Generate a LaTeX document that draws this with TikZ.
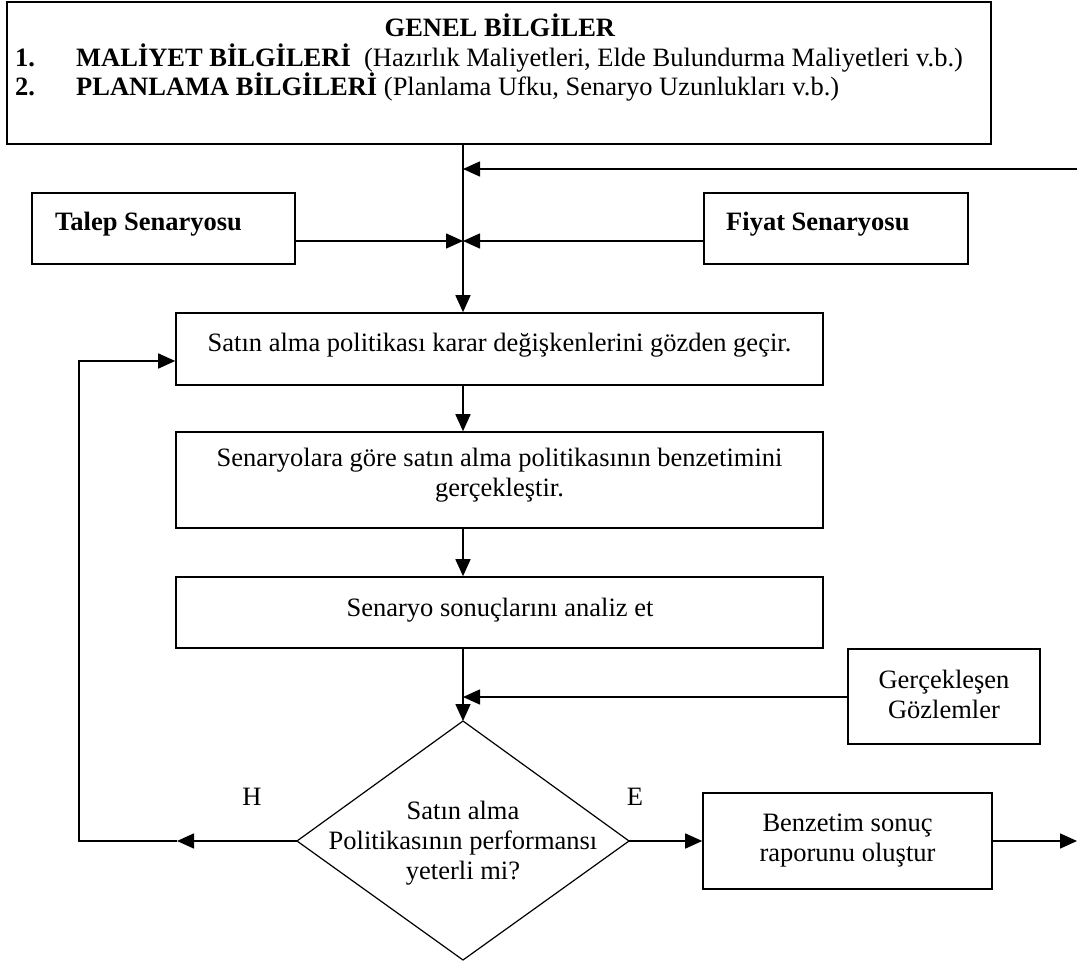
\documentclass[tikz,border=0pt]{standalone}
\usepackage{fontspec}
\setmainfont{Liberation Serif}
\usetikzlibrary{arrows.meta}
\tikzset{
  box/.style={draw, line width=1.6pt, inner sep=0pt, rectangle},
  conn/.style={line width=1.6pt},
  arr/.style={conn, -{Triangle[length=17pt,width=15pt]}},
  txt/.style={inner sep=0pt, anchor=base},
  ltxt/.style={inner sep=0pt, anchor=base west},
  mtxt/.style={inner sep=0pt, anchor=base, align=flush center, text width=#1},
}
\begin{document}
\begin{tikzpicture}[x=1pt,y=-1pt,font=\fontsize{26.5}{30}\selectfont]
\useasboundingbox (0,0) rectangle (1077,965);

% boxes
\node[box, minimum width=984pt, minimum height=142pt] (top) at (499,73) {};
\node[box, minimum width=263pt, minimum height=71pt] (talep) at (163.5,228.5) {};
\node[box, minimum width=264pt, minimum height=71pt] (fiyat) at (836,228.5) {};
\node[box, minimum width=647pt, minimum height=72pt] (sat) at (499.5,349) {};
\node[box, minimum width=647pt, minimum height=96pt] (sen) at (499.5,480) {};
\node[box, minimum width=647pt, minimum height=71pt] (ana) at (499.5,612.5) {};
\node[box, minimum width=192pt, minimum height=95pt] (ger) at (944,696.5) {};
\node[box, minimum width=289pt, minimum height=96pt] (ben) at (847.5,841) {};

% diamond
\coordinate (dt) at (463,721);
\coordinate (dr) at (629,841);
\coordinate (db) at (463,960);
\coordinate (dl) at (297,841);
\draw[line width=1.2pt, line join=miter] (dt) -- (dr) -- (db) -- (dl) -- cycle;

% texts
\node[txt] (title) at (500,37) {\textbf{GENEL BİLGİLER}};
\node[ltxt] (n1) at (15,67) {\textbf{1.}};
\node[ltxt] (l1) at (76,67) {\textbf{MALİYET BİLGİLERİ}\ \ (Hazırlık Maliyetleri, Elde Bulundurma Maliyetleri v.b.)};
\node[ltxt] (n2) at (15,96) {\textbf{2.}};
\node[ltxt] (l2) at (76,96) {\textbf{PLANLAMA BİLGİLERİ} (Planlama Ufku, Senaryo Uzunlukları v.b.)};
\node[ltxt] (talept) at (55,231) {\textbf{Talep Senaryosu}};
\node[ltxt] (fiyatt) at (726,231) {\textbf{Fiyat Senaryosu}};
\node[txt] (satt) at (499.5,352) {Satın alma politikası karar değişkenlerini gözden geçir.};
\node[mtxt=700pt] (sent) at (499.5,467) {Senaryolara göre satın alma politikasının benzetimini\\gerçekleştir.};
\node[txt] (anat) at (500,616) {Senaryo sonuçlarını analiz et};
\node[mtxt=185pt] (gert) at (944,688) {Gerçekleşen\\Gözlemler};
\node[mtxt=280pt] (bent) at (847.5,831) {Benzetim sonuç\\raporunu oluştur};
\node[mtxt=330pt] (dtext) at (463,819) {Satın alma\\Politikasının performansı\\yeterli mi?};
\node[txt] (hl) at (252,805) {H};
\node[txt] (el) at (635,805) {E};

% connectors
\coordinate (sp) at (463,0);
\coordinate (rin) at (1077,169);
\coordinate (j2) at (463,241);
\coordinate (rout) at (1077,841);
\coordinate (ha) at (177,841);
\coordinate (lb) at (79,841);
\coordinate (lt) at (79,361);

\draw[arr] (rin) -- (rin -| sp);
\draw[arr] (top.south -| sp) -- (sat.north -| sp);
\draw[arr] (talep.east |- j2) -- (j2);
\draw[arr] (fiyat.west |- j2) -- (j2);
\draw[arr] (sat.south -| sp) -- (sen.north -| sp);
\draw[arr] (sen.south -| sp) -- (ana.north -| sp);
\draw[arr] (ana.south -| sp) -- (dt);
\draw[arr] (ger.west |- 0,697) -- (463,697);
\draw[arr] (dr) -- (ben.west);
\draw[arr] (ben.east) -- (rout);
\draw[arr] (dl) -- (ha);
\draw[arr] (ha) -- (lb) -- (lt) -- (sat.west |- lt);
\end{tikzpicture}
\end{document}
